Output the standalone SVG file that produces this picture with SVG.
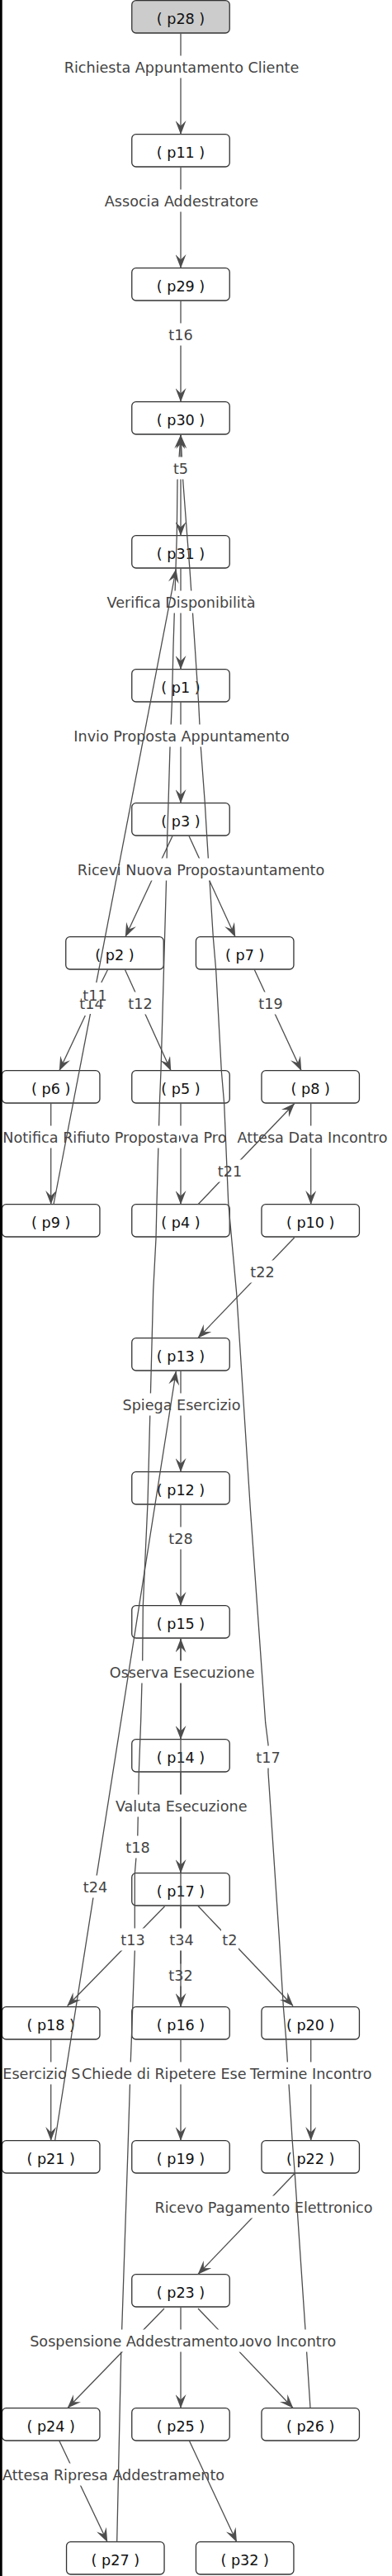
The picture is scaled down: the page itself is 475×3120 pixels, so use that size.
<svg xmlns="http://www.w3.org/2000/svg" width="475" height="3120" viewBox="0 0 475 3120">
<style>
.node rect{fill:#fff;stroke:#333;stroke-width:1.3}
.node.start rect{fill:#ccc}
.node text{font-family:"DejaVu Sans",Verdana,sans-serif;font-size:17.6px;fill:#111;text-anchor:middle}
.edge path{fill:none;stroke:#4d4d4d;stroke-width:1.3;stroke-linejoin:round}
.edge path.a{marker-end:url(#ah)}
.edge rect{fill:#fff}
.edge text{font-family:"DejaVu Sans",Verdana,sans-serif;font-size:17.6px;fill:#444;text-anchor:middle}
.edge text.s{text-anchor:start}
.edge text.e{text-anchor:end}
</style>
<defs>
<marker id="ah" viewBox="0 0 17 13" refX="16.5" refY="6.5" markerWidth="17" markerHeight="13" markerUnits="userSpaceOnUse" orient="auto"><path d="M0,0 L17,6.5 L0,13 L6.5,6.5 Z" fill="#4d4d4d"/></marker>
</defs>
<rect x="0" y="0" width="475" height="3120" fill="#fff"/>
<g id="nodes">
<g id="p28" class="node start"><rect x="159.75" y="0.7" width="118.5" height="39.3" rx="5"/><text x="219" y="29.3">( p28 )</text></g>
<g id="p11" class="node"><rect x="159.75" y="162.7" width="118.5" height="39.3" rx="5"/><text x="219" y="191.3">( p11 )</text></g>
<g id="p29" class="node"><rect x="159.75" y="324.7" width="118.5" height="39.3" rx="5"/><text x="219" y="353.3">( p29 )</text></g>
<g id="p30" class="node"><rect x="159.75" y="486.7" width="118.5" height="39.3" rx="5"/><text x="219" y="515.3">( p30 )</text></g>
<g id="p31" class="node"><rect x="159.75" y="648.7" width="118.5" height="39.3" rx="5"/><text x="219" y="677.3">( p31 )</text></g>
<g id="p1" class="node"><rect x="159.75" y="810.7" width="118.5" height="39.3" rx="5"/><text x="219" y="839.3">( p1 )</text></g>
<g id="p3" class="node"><rect x="159.75" y="972.7" width="118.5" height="39.3" rx="5"/><text x="219" y="1001.3">( p3 )</text></g>
<g id="p2" class="node"><rect x="79.75" y="1134.7" width="118.5" height="39.3" rx="5"/><text x="139" y="1163.3">( p2 )</text></g>
<g id="p7" class="node"><rect x="237.45" y="1134.7" width="118.5" height="39.3" rx="5"/><text x="296.7" y="1163.3">( p7 )</text></g>
<g id="p6" class="node"><rect x="2.45" y="1296.7" width="118.5" height="39.3" rx="5"/><text x="61.7" y="1325.3">( p6 )</text></g>
<g id="p5" class="node"><rect x="159.75" y="1296.7" width="118.5" height="39.3" rx="5"/><text x="219" y="1325.3">( p5 )</text></g>
<g id="p8" class="node"><rect x="316.95" y="1296.7" width="118.5" height="39.3" rx="5"/><text x="376.2" y="1325.3">( p8 )</text></g>
<g id="p9" class="node"><rect x="2.45" y="1458.7" width="118.5" height="39.3" rx="5"/><text x="61.7" y="1487.3">( p9 )</text></g>
<g id="p4" class="node"><rect x="159.75" y="1458.7" width="118.5" height="39.3" rx="5"/><text x="219" y="1487.3">( p4 )</text></g>
<g id="p10" class="node"><rect x="316.95" y="1458.7" width="118.5" height="39.3" rx="5"/><text x="376.2" y="1487.3">( p10 )</text></g>
<g id="p13" class="node"><rect x="159.75" y="1620.7" width="118.5" height="39.3" rx="5"/><text x="219" y="1649.3">( p13 )</text></g>
<g id="p12" class="node"><rect x="159.75" y="1782.7" width="118.5" height="39.3" rx="5"/><text x="219" y="1811.3">( p12 )</text></g>
<g id="p15" class="node"><rect x="159.75" y="1944.7" width="118.5" height="39.3" rx="5"/><text x="219" y="1973.3">( p15 )</text></g>
<g id="p14" class="node"><rect x="159.75" y="2106.7" width="118.5" height="39.3" rx="5"/><text x="219" y="2135.3">( p14 )</text></g>
<g id="p17" class="node"><rect x="159.75" y="2268.7" width="118.5" height="39.3" rx="5"/><text x="219" y="2297.3">( p17 )</text></g>
<g id="p18" class="node"><rect x="2.45" y="2430.7" width="118.5" height="39.3" rx="5"/><text x="61.7" y="2459.3">( p18 )</text></g>
<g id="p16" class="node"><rect x="159.75" y="2430.7" width="118.5" height="39.3" rx="5"/><text x="219" y="2459.3">( p16 )</text></g>
<g id="p20" class="node"><rect x="316.95" y="2430.7" width="118.5" height="39.3" rx="5"/><text x="376.2" y="2459.3">( p20 )</text></g>
<g id="p21" class="node"><rect x="2.45" y="2592.7" width="118.5" height="39.3" rx="5"/><text x="61.7" y="2621.3">( p21 )</text></g>
<g id="p19" class="node"><rect x="159.75" y="2592.7" width="118.5" height="39.3" rx="5"/><text x="219" y="2621.3">( p19 )</text></g>
<g id="p22" class="node"><rect x="316.95" y="2592.7" width="118.5" height="39.3" rx="5"/><text x="376.2" y="2621.3">( p22 )</text></g>
<g id="p23" class="node"><rect x="159.75" y="2754.7" width="118.5" height="39.3" rx="5"/><text x="219" y="2783.3">( p23 )</text></g>
<g id="p24" class="node"><rect x="2.45" y="2916.7" width="118.5" height="39.3" rx="5"/><text x="61.7" y="2945.3">( p24 )</text></g>
<g id="p25" class="node"><rect x="159.75" y="2916.7" width="118.5" height="39.3" rx="5"/><text x="219" y="2945.3">( p25 )</text></g>
<g id="p26" class="node"><rect x="316.95" y="2916.7" width="118.5" height="39.3" rx="5"/><text x="376.2" y="2945.3">( p26 )</text></g>
<g id="p27" class="node"><rect x="80.55" y="3078.7" width="118.5" height="39.3" rx="5"/><text x="139.8" y="3107.3">( p27 )</text></g>
<g id="p32" class="node"><rect x="237.45" y="3078.7" width="118.5" height="39.3" rx="5"/><text x="296.7" y="3107.3">( p32 )</text></g>
</g>
<g id="connectors" class="edge">
<!-- p24 -> p27 -->
<path class="a" d="M71.7,2956 L130,3078.5"/>
<rect x="2" y="2983.5" width="270" height="27"/><text class="s" x="3" y="3004.3">Attesa Ripresa Addestramento</text>
<!-- p25 -> p32 -->
<path class="a" d="M229.3,2956 L286.7,3078.5"/>
<!-- p16 -> p15 t32 -->
<path class="a" d="M219,2430 L219,1985"/>
<rect x="203" y="2378.5" width="32" height="27"/><text x="219" y="2399.3">t32</text>
<!-- p22 -> p23 -->
<path class="a" d="M357,2632.5 L240,2754.5"/>
<rect x="185" y="2659.5" width="269" height="27"/><text x="319.5" y="2680.3">Ricevo Pagamento Elettronico</text>
<!-- p27 -> p30 t18 -->
<path class="a" d="M141.7,3078.5 L146.7,2850 L155,2603 L158.3,2496.7 L163.3,2363.3 L163.3,2270 L166.7,2228.3 L168.3,2146.7 L170.7,2083 L172.7,2011.7 L173.3,1945 L179,1820 L180,1781.7 L185.7,1563 L189,1500 L190,1456.7 L193.3,1337.3 L195,1296.7 L201.7,1060 L202.7,1013.3 L204,973.3 L206,905 L208.3,852.7 L210,783 L214.3,646.7 L215,581.7 L219,527"/>
<rect x="151" y="2223.5" width="32" height="27"/><text x="167" y="2244.3">t18</text>
<!-- p5 -> p4 -->
<path class="a" d="M219,1336.5 L219,1458.5"/>
<rect x="208" y="1363.5" width="77" height="27"/><text class="s" x="209" y="1384.3">ova Pro</text>
<!-- p8 -> p10 -->
<path class="a" d="M376.7,1336.5 L376.7,1458.5"/>
<rect x="285" y="1363.5" width="187" height="27"/><text x="378.5" y="1384.3">Attesa Data Incontro</text>
<!-- p4 -> p8 t21 -->
<path class="a" d="M240,1458.7 L356.7,1336.7"/>
<rect x="263" y="1404.5" width="31" height="27"/><text x="278.5" y="1425.3">t21</text>
<!-- p26 -> p30 t17 -->
<path class="a" d="M376,2916.5 L371.7,2850 L370,2821.7 L357.3,2633.3 L354,2590 L346.7,2470 L343.3,2430 L338.3,2346.7 L325,2146.7 L325,2113 L321.7,2086.7 L303.3,1826.7 L286.7,1566.7 L276.7,1456.7 L271.7,1337.3 L268.3,1296.7 L261.7,1175 L258.3,1135 L250.7,1013.3 L248.3,972.7 L243.3,905 L240.7,852.7 L236,780 L230,690 L226.7,648.3 L221.7,581.7 L219,527"/>
<rect x="309" y="2114.5" width="32" height="27"/><text x="325" y="2135.3">t17</text>
<!-- p6 -> p9 -->
<path class="a" d="M61.7,1336.5 L61.7,1458.5"/>
<rect x="2" y="1363.5" width="215" height="27"/><text class="s" x="3.3" y="1384.3">Notifica Rifiuto Proposta</text>
<!-- p3 -> p7 -->
<path class="a" d="M229,1012.5 L285,1134.5"/>
<rect x="285" y="1039.5" width="110" height="27"/><text class="e" x="393.3" y="1060.3">puntamento</text>
<!-- p28 -> p11 -->
<path class="a" d="M219,40.5 L219,162.5"/>
<rect x="77" y="67.5" width="287" height="27"/><text x="220" y="88.3">Richiesta Appuntamento Cliente</text>
<!-- p11 -> p29 -->
<path class="a" d="M219,202.5 L219,324.5"/>
<rect x="125.5" y="229.5" width="189" height="27"/><text x="220" y="250.3">Associa Addestratore</text>
<!-- p29 -> p30 -->
<path class="a" d="M219,364.5 L219,486.5"/>
<rect x="203" y="391.5" width="32" height="27"/><text x="219" y="412.3">t16</text>
<!-- p30 -> p31 -->
<path class="a" d="M219,526.5 L219,648.5"/>
<rect x="207" y="553.5" width="24" height="27"/><text x="219" y="574.3">t5</text>
<!-- p31 -> p1 -->
<path class="a" d="M219,688.5 L219,810.5"/>
<rect x="128" y="715.5" width="183" height="27"/><text x="219.5" y="736.3">Verifica Disponibilità</text>
<!-- p1 -> p3 -->
<path class="a" d="M219,850.5 L219,972.5"/>
<rect x="85.5" y="877.5" width="269" height="27"/><text x="220" y="898.3">Invio Proposta Appuntamento</text>
<!-- p3 -> p2 -->
<path class="a" d="M209,1012.5 L152,1134.5"/>
<rect x="91.5" y="1039.5" width="200.5" height="27"/><text x="192.3" y="1060.3">Ricevi Nuova Proposta</text>
<!-- p2 -> p5 t12 -->
<path class="a" d="M151.5,1174.5 L207,1296.5"/>
<rect x="154" y="1201.5" width="32" height="27"/><text x="170" y="1222.3">t12</text>
<!-- p7 -> p8 t19 -->
<path class="a" d="M308.3,1174.5 L365,1296.5"/>
<rect x="312" y="1201.5" width="32" height="27"/><text x="328" y="1222.3">t19</text>
<!-- p10 -> p13 t22 -->
<path class="a" d="M356.7,1499 L240,1620.5"/>
<rect x="302" y="1526.5" width="32" height="27"/><text x="318" y="1547.3">t22</text>
<!-- p13 -> p12 -->
<path class="a" d="M219,1660.5 L219,1782.5"/>
<rect x="147" y="1687.5" width="146" height="27"/><text x="220" y="1708.3">Spiega Esercizio</text>
<!-- p12 -> p15 -->
<path class="a" d="M219,1822.5 L219,1944.5"/>
<rect x="203" y="1849.5" width="32" height="27"/><text x="219" y="1870.3">t28</text>
<!-- p15 -> p14 -->
<path class="a" d="M219,1984.5 L219,2106.5"/>
<rect x="131.5" y="2011.5" width="178" height="27"/><text x="220.7" y="2032.3">Osserva Esecuzione</text>
<!-- p14 -> p17 -->
<path class="a" d="M219,2146.5 L219,2268.5"/>
<rect x="138" y="2173.5" width="163" height="27"/><text x="219.7" y="2194.3">Valuta Esecuzione</text>
<!-- p17 -> p18 t13 -->
<path class="a" d="M199.5,2309 L81.7,2429.5"/>
<rect x="145" y="2335.5" width="32" height="27"/><text x="161" y="2356.3">t13</text>
<!-- p17 -> p16 t34 -->
<path class="a" d="M219,2308.5 L219,2430.5"/>
<rect x="204" y="2335.5" width="32" height="27"/><text x="220" y="2356.3">t34</text>
<!-- p17 -> p20 t2 -->
<path class="a" d="M240,2308.5 L355,2429.5"/>
<rect x="268" y="2335.5" width="21" height="27"/><text x="278.3" y="2356.3">t2</text>
<!-- p18 -> p21 -->
<path class="a" d="M61.7,2470.5 L61.7,2592.5"/>
<rect x="2" y="2497.5" width="96" height="27"/><text class="s" x="3.3" y="2518.3">Esercizio S</text>
<!-- p16 -> p19 -->
<path class="a" d="M219,2470.5 L219,2592.5"/>
<rect x="98" y="2497.5" width="201" height="27"/><text class="s" x="99" y="2518.3">Chiede di Ripetere Ese</text>
<!-- p20 -> p22 -->
<path class="a" d="M376.7,2470.5 L376.7,2592.5"/>
<rect x="298" y="2497.5" width="159" height="27"/><text x="376.7" y="2518.3">Termine Incontro</text>
<!-- p23 -> p25 -->
<path class="a" d="M219,2794.5 L219,2916.5"/>
<!-- p23 -> p26 -->
<path class="a" d="M240,2796 L355,2916.5"/>
<rect x="285" y="2821.5" width="124" height="27"/><text class="e" x="407.3" y="2842.3">uovo Incontro</text>
<!-- p23 -> p24 -->
<path class="a" d="M199,2796 L82,2916.5"/>
<rect x="34.5" y="2821.5" width="256" height="27"/><text x="162.4" y="2842.3">Sospensione Addestramento</text>
<!-- p9 -> p31 t14 -->
<path class="a" d="M65,1458.5 L213.3,689.5"/>
<rect x="95" y="1204" width="32" height="24"/><text x="111" y="1222">t14</text>
<!-- p2 -> p6 t11 -->
<path d="M130.5,1174.5 L122.8,1190"/>
<path class="a" d="M103.3,1230 L72,1296.5"/>
<rect x="99" y="1190" width="32" height="22"/><text x="115" y="1211.7">t11</text>
<!-- p21 -> p13 t24 -->
<path class="a" d="M66.7,2592 L213.3,1661"/>
<rect x="100" y="2271.5" width="31" height="27"/><text x="115.5" y="2292.3">t24</text>
</g>
<rect x="0" y="0" width="2.7" height="3120" fill="#000"/>
</svg>
